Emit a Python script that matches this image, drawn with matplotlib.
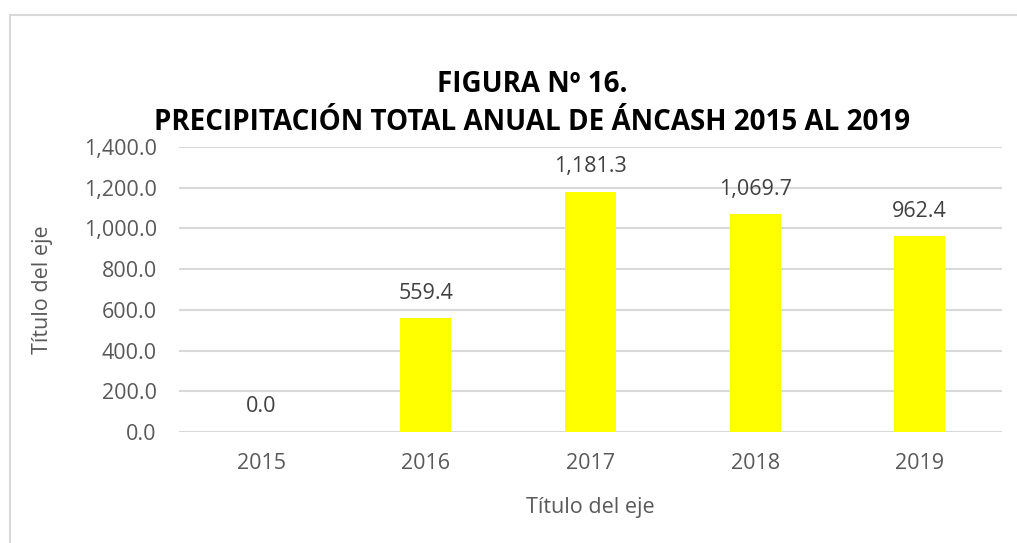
import numpy as np
import matplotlib
matplotlib.use("Agg")
import matplotlib.pyplot as plt
from matplotlib.lines import Line2D
from matplotlib.ticker import FuncFormatter

plt.rcParams['font.family'] = ['Open Sans', 'DejaVu Sans']

anios = ['2015', '2016', '2017', '2018', '2019']
precipitacion = [0.0, 559.4, 1181.3, 1069.7, 962.4]
yticks = [0, 200, 400, 600, 800, 1000, 1200, 1400]

gris = '#595959'
grid_col = '#D9D9D9'

W, H = 1017, 543
fig = plt.figure(figsize=(W / 100, H / 100), dpi=100)
ax = fig.add_axes([179 / W, 1 - 432 / H, (1002 - 179) / W, (432 - 147) / H])

x = np.arange(len(anios))
ax.bar(x, precipitacion, width=0.31, color='#FFFF00', zorder=3)
for xi, v in zip(x, precipitacion):
    ax.annotate(f'{v:,.1f}', (xi, v), xytext=(0, 18), textcoords='offset points',
                ha='center', va='center', fontsize=15.5, color='#404040')

ax.set_xlim(-0.5, len(anios) - 0.5)
ax.set_ylim(0, 1400)
ax.set_yticks(yticks)
ax.yaxis.set_major_formatter(FuncFormatter(lambda v, p: f'{v:,.1f}'))
ax.set_xticks(x)
ax.set_xticklabels(anios)
ax.tick_params(axis='both', length=0, labelsize=15.5, labelcolor=gris)
ax.tick_params(axis='x', pad=15)
ax.tick_params(axis='y', pad=16)
ax.grid(axis='y', color=grid_col, linewidth=1.5, zorder=0)
for s in ax.spines.values():
    s.set_visible(False)

ax.set_xlabel('Título del eje', fontsize=15.5, color=gris, labelpad=17)
ax.set_ylabel('Título del eje', fontsize=15.5, color=gris, labelpad=22)

fig.text(532 / W, 1 - 85 / H, 'FIGURA Nº 16.', ha='center', va='center',
         fontsize=20, fontweight='bold', color='black')
fig.text(532 / W, 1 - 122 / H, 'PRECIPITACIÓN TOTAL ANUAL DE ÁNCASH 2015 AL 2019',
         ha='center', va='center', fontsize=20, fontweight='bold', color='black')

# borde del area del grafico
fig.add_artist(Line2D([10 / W, 10 / W], [0, 1 - 15 / H], color=grid_col, linewidth=1.5))
fig.add_artist(Line2D([10 / W, 1], [1 - 15 / H, 1 - 15 / H], color=grid_col, linewidth=1.5))

fig.savefig('out.png', dpi=100)
